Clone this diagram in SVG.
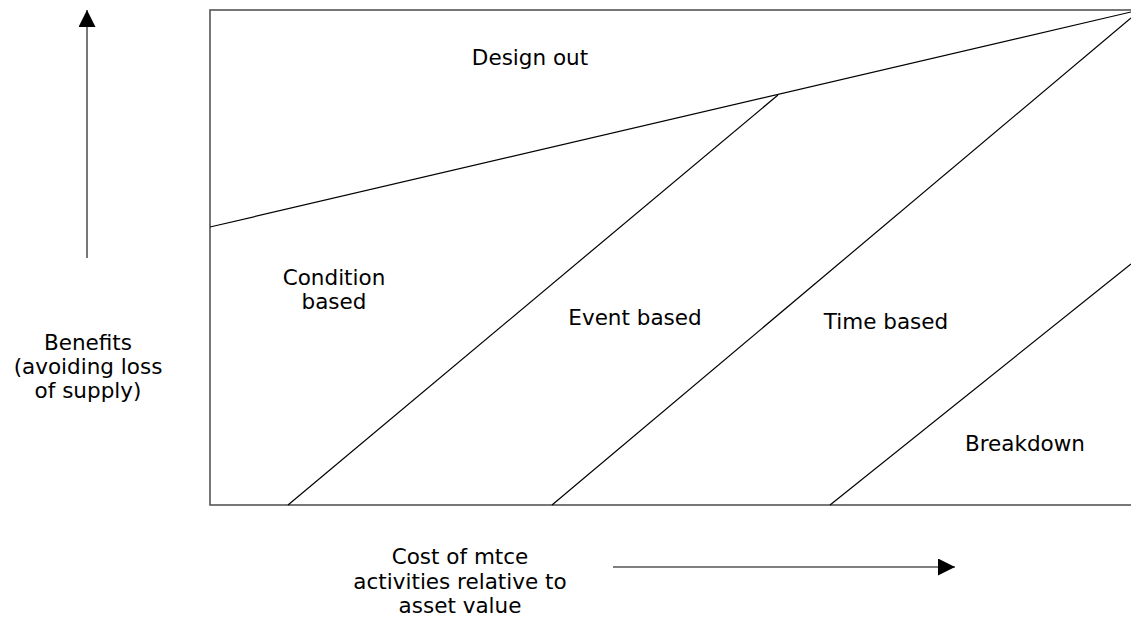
<svg xmlns="http://www.w3.org/2000/svg" width="1131" height="618" viewBox="0 0 1131 618">
<style>
.t{font-family:"DejaVu Sans",Verdana,sans-serif;font-size:21.5px;fill:#000;text-anchor:middle}
.ln{stroke:#000;stroke-width:1.2;fill:none}
.frame{stroke:#555;stroke-width:1.6;fill:none}
</style>
<defs>
<marker id="ah" viewBox="0 0 10 10" refX="10" refY="5" markerWidth="17" markerHeight="17" markerUnits="userSpaceOnUse" orient="auto">
<path d="M0,0 L10,5 L0,10 Z" fill="#000"/>
</marker>
</defs>
<rect width="1131" height="618" fill="#fff"/>
<g id="connectors">
<rect class="frame" x="210" y="10" width="960" height="495"/>
<line class="ln" x1="210" y1="227" x2="1131" y2="12"/>
<line class="ln" x1="288" y1="505" x2="778" y2="95"/>
<line class="ln" x1="552" y1="505" x2="1131" y2="18"/>
<line class="ln" x1="830" y1="505" x2="1131" y2="264"/>
<line x1="87" y1="258" x2="87" y2="10" stroke="#555" stroke-width="1.6" marker-end="url(#ah)"/>
<line x1="613" y1="567" x2="955" y2="567" stroke="#555" stroke-width="1.6" marker-end="url(#ah)"/>
</g>
<g id="design-out"><text class="t" x="530" y="65">Design out</text></g>
<g id="condition-based"><text class="t" x="334" y="285">Condition</text><text class="t" x="334" y="309">based</text></g>
<g id="event-based"><text class="t" x="635" y="325">Event based</text></g>
<g id="time-based"><text class="t" x="886" y="329">Time based</text></g>
<g id="breakdown"><text class="t" x="1025" y="451">Breakdown</text></g>
<g id="benefits"><text class="t" x="88" y="350">Benefits</text><text class="t" x="88" y="374">(avoiding loss</text><text class="t" x="88" y="398">of supply)</text></g>
<g id="cost"><text class="t" x="460" y="564">Cost of mtce</text><text class="t" x="460" y="589">activities relative to</text><text class="t" x="460" y="613">asset value</text></g>
</svg>
